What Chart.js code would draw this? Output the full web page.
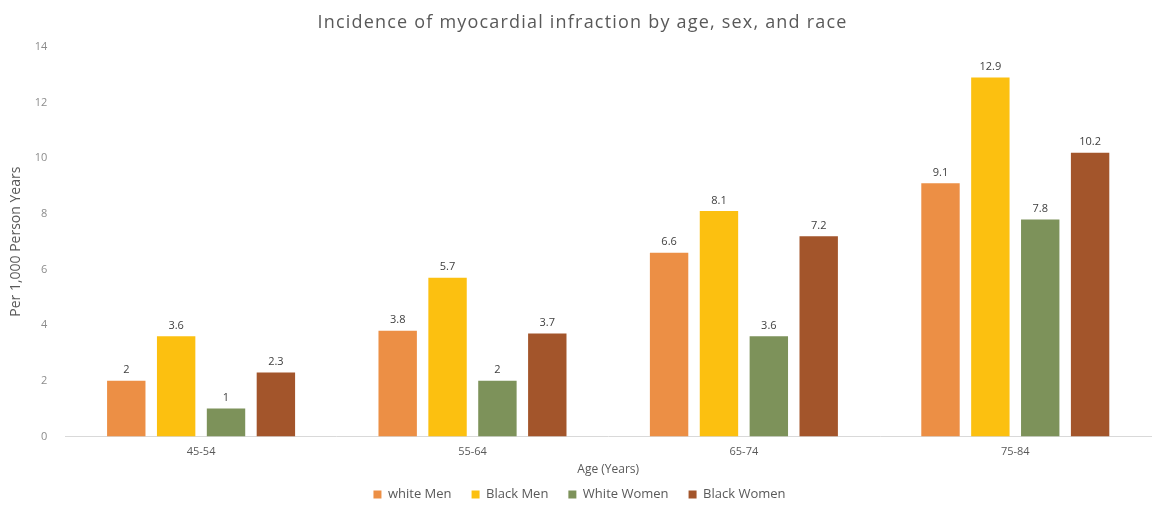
<!DOCTYPE html>
<html lang="en">
<head>
  <meta charset="UTF-8">
  <title>Incidence of myocardial infraction</title>
  <script src="https://cdn.jsdelivr.net/npm/chart.js"></script>
  <style>
    body { margin: 0; padding: 0; background: #fff; font-family: "Open Sans", Arial, sans-serif; }
    #wrap { width: 1157px; height: 508px; }
  </style>
</head>
<body>
  <div id="wrap"><canvas id="grafico"></canvas></div>

  <script>
    // dados
    const faixas = ['45-54', '55-64', '65-74', '75-84'];
    const whiteMen = [2, 3.8, 6.6, 9.1];
    const blackMen = [3.6, 5.7, 8.1, 12.9];
    const whiteWomen = [1, 2, 3.6, 7.8];
    const blackWomen = [2.3, 3.7, 7.2, 10.2];
    const yTicks = [0, 2, 4, 6, 8, 10, 12, 14];
    const titulo = 'Incidence of myocardial infraction by age, sex, and race';

    const fonte = "'Open Sans', Arial, sans-serif";

    // título desenhado à mão (letras mais espaçadas, como no original)
    const tituloPlugin = {
      id: 'tituloPlugin',
      afterDraw(chart) {
        const ctx = chart.ctx;
        ctx.save();
        ctx.font = '18px ' + fonte;
        ctx.letterSpacing = '1.2px';
        ctx.fillStyle = '#595959';
        ctx.textAlign = 'center';
        ctx.textBaseline = 'middle';
        ctx.fillText(titulo, chart.width / 2 + 4, 23);
        ctx.restore();
      }
    };

    // sobe um pouco a legenda, mais perto do título do eixo x
    const legendaAjuste = {
      id: 'legendaAjuste',
      afterLayout(chart) {
        chart.legend.top -= 11;
        chart.legend.bottom -= 11;
      }
    };

    // rótulos em cima das barras
    const rotulos = {
      id: 'rotulos',
      afterDatasetsDraw(chart) {
        const ctx = chart.ctx;
        ctx.save();
        ctx.font = '11px ' + fonte;
        ctx.fillStyle = '#404040';
        ctx.textAlign = 'center';
        ctx.textBaseline = 'bottom';
        chart.data.datasets.forEach((ds, i) => {
          chart.getDatasetMeta(i).data.forEach((bar, j) => {
            ctx.fillText(ds.data[j], bar.x, bar.y - 5);
          });
        });
        ctx.restore();
      }
    };

    new Chart(document.getElementById('grafico'), {
      type: 'bar',
      data: {
        labels: faixas,
        datasets: [
          { label: 'white Men', data: whiteMen, backgroundColor: '#EC8F45' },
          { label: 'Black Men', data: blackMen, backgroundColor: '#FCC010' },
          { label: 'White Women', data: whiteWomen, backgroundColor: '#7D925A' },
          { label: 'Black Women', data: blackWomen, backgroundColor: '#A3552B' }
        ]
      },
      options: {
        responsive: true,
        maintainAspectRatio: false,
        animation: false,
        datasets: { bar: { categoryPercentage: 0.735, barPercentage: 0.77 } },
        layout: { padding: { left: 8, right: 6, top: 47, bottom: -14 } },
        plugins: {
          legend: {
            position: 'bottom',
            labels: {
              boxWidth: 8, boxHeight: 8, color: '#595959',
              font: { family: fonte, size: 13 }, padding: 20
            }
          },
          tooltip: { enabled: false }
        },
        scales: {
          x: {
            grid: { display: false },
            border: { color: '#d9d9d9' },
            ticks: { color: '#595959', font: { family: fonte, size: 11 }, padding: 1 },
            title: { display: true, text: 'Age (Years)', color: '#595959', font: { family: fonte, size: 12 }, padding: { top: 3, bottom: 2 } }
          },
          y: {
            min: 0, max: 14,
            afterBuildTicks: axis => { axis.ticks = yTicks.map(v => ({ value: v })); },
            grid: { display: false },
            border: { display: false },
            ticks: { color: '#8c8c8c', font: { family: fonte, size: 11 }, padding: 10 },
            title: { display: true, text: 'Per 1,000 Person Years', color: '#595959', font: { family: fonte, size: 14 }, padding: { top: 0, bottom: 0 } }
          }
        }
      },
      plugins: [rotulos, tituloPlugin, legendaAjuste]
    });
  </script>
</body>
</html>
